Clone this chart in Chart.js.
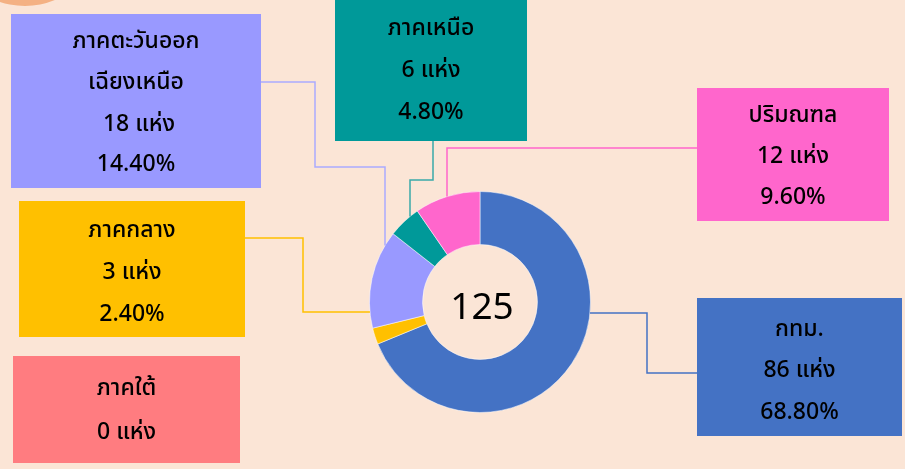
<!DOCTYPE html>
<html>
<head>
<meta charset="utf-8">
<script src="https://cdn.jsdelivr.net/npm/chart.js@4"></script>
<style>
  html, body { margin: 0; padding: 0; background: #fbe5d6; }
  #wrap { width: 905px; height: 469px; position: relative; }
</style>
</head>
<body>
<div id="wrap"><canvas id="myChart" width="905" height="469"></canvas></div>
<script>
  // ข้อมูล
  const regions = ['กทม.', 'ภาคกลาง', 'ภาคใต้', 'ภาคตะวันออกเฉียงเหนือ', 'ภาคเหนือ', 'ปริมณฑล'];
  const counts = [86, 3, 0, 18, 6, 12];
  const sliceColors = ['#4472c4', '#ffc000', '#ff7c80', '#9999ff', '#009999', '#ff66cc'];
  const lineColors = ['#4472c4', '#ffc000', '#ff7c80', '#aaaaff', '#3aa9a9', '#ff66cc'];
  const total = counts.reduce((a, b) => a + b, 0);

  const FONT = "Tahoma, 'Noto Sans Thai', 'Noto Sans', sans-serif";

  // กล่องข้อความ (x, y, w, h) และบรรทัด
  const boxes = [
    { x: 697, y: 298, w: 205, h: 138, rows: [331, 372, 414], title: ['กทม.'],
      path: [[697, 373], [647, 373], [647, 313]], hit: 'h' },
    { x: 19, y: 201, w: 226, h: 136, rows: [232, 274, 316], title: ['ภาคกลาง'],
      path: [[245, 238], [303, 238], [303, 312]], hit: 'h' },
    { x: 13, y: 356, w: 227, h: 107, rows: [390, 434], title: ['ภาคใต้'], noPct: true },
    { x: 11, y: 14, w: 250, h: 174, rows: [43, 84, 126, 166], title: ['ภาคตะวันออก', 'เฉียงเหนือ'], pad: ' ',
      path: [[261, 82], [315, 82], [315, 167], [385, 167]], hit: 'v' },
    { x: 335, y: -2, w: 192, h: 143, rows: [30, 72, 114], title: ['ภาคเหนือ'],
      path: [[433, 141], [433, 180], [410, 180]], hit: 'v' },
    { x: 697, y: 88, w: 192, h: 133, rows: [117, 158, 199], title: ['ปริมณฑล'],
      path: [[697, 148], [447, 148]], hit: 'v' }
  ];

  const decor = {
    id: 'decor',
    beforeDraw(chart) {
      const c = chart.ctx;
      c.save();
      c.fillStyle = '#fbe5d6';
      c.fillRect(0, 0, chart.width, chart.height);
      c.fillStyle = '#f4b183';
      c.beginPath();
      c.arc(25, -72, 78, 0, Math.PI * 2);
      c.fill();
      c.restore();
    },
    afterDraw(chart) {
      const c = chart.ctx;
      const arc = chart.getDatasetMeta(0).data[0];
      const cx = arc.x, cy = arc.y, R = arc.outerRadius;
      c.save();
      boxes.forEach((b, i) => {
        // เส้นชี้
        if (b.path) {
          const last = b.path[b.path.length - 1];
          let end;
          if (b.hit === 'v') {
            const dx = last[0] - cx;
            end = [last[0], cy - Math.sqrt(R * R - dx * dx)];
          } else {
            const dy = last[1] - cy;
            const side = last[0] > cx ? 1 : -1;
            end = [cx + side * Math.sqrt(R * R - dy * dy), last[1]];
          }
          c.strokeStyle = lineColors[i];
          c.lineWidth = 1.5;
          c.beginPath();
          c.moveTo(b.path[0][0], b.path[0][1]);
          b.path.slice(1).forEach(p => c.lineTo(p[0], p[1]));
          c.lineTo(end[0], end[1]);
          c.stroke();
        }
        // กล่อง
        c.fillStyle = sliceColors[i];
        c.fillRect(b.x, b.y, b.w, b.h);
        const lines = b.title.concat([(b.pad || '') + counts[i] + ' แห่ง']);
        if (!b.noPct) lines.push((counts[i] / total * 100).toFixed(2) + '%');
        c.fillStyle = '#000';
        c.font = '500 23px ' + FONT;
        c.textAlign = 'center';
        c.textBaseline = 'middle';
        lines.forEach((t, k) => c.fillText(t, b.x + b.w / 2, b.rows[k]));
      });
      // ตัวเลขกลางวง
      c.font = '37px ' + FONT;
      c.fillStyle = '#000';
      c.textAlign = 'center';
      c.textBaseline = 'middle';
      c.fillText(String(total), cx + 2, cy + 10);
      c.restore();
    }
  };

  const ctx = document.getElementById('myChart').getContext('2d');
  const myChart = new Chart(ctx, {
    type: 'doughnut',
    data: {
      labels: regions,
      datasets: [{
        data: counts,
        backgroundColor: sliceColors,
        borderColor: 'rgba(255,255,255,0.5)',
        borderWidth: 1
      }]
    },
    options: {
      responsive: false,
      animation: false,
      cutout: '52%',
      layout: { padding: { top: 191, bottom: 56, left: 368, right: 313 } },
      plugins: {
        legend: { display: false },
        tooltip: { enabled: false }
      }
    },
    plugins: [decor]
  });
</script>
</body>
</html>
